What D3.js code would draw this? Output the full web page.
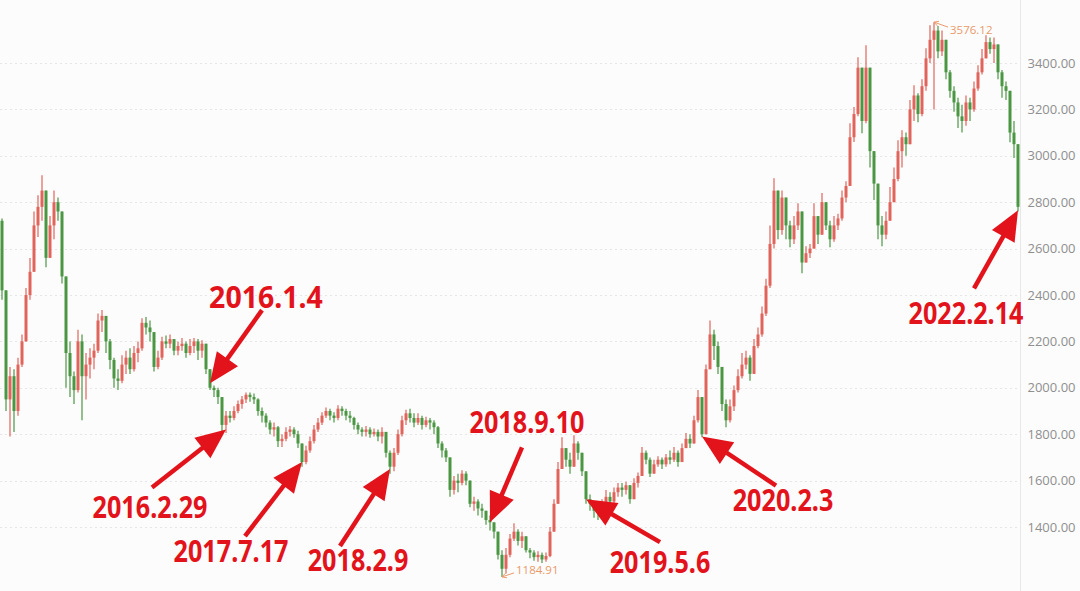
<!DOCTYPE html>
<html>
<head>
<meta charset="utf-8">
<script src="https://cdn.jsdelivr.net/npm/d3@7"></script>
<style>
html,body{margin:0;padding:0;background:#fcfcfc;}
svg{display:block;}
</style>
</head>
<body>
<svg id="chart" width="1080" height="591"></svg>
<script>
// ---------- DATA ----------
const firstOpen = 2720;
const closes = [
2420,1950,2050,1900,2100,2200,2400,2500,2700,2780,
2850,2560,2700,2800,2760,2480,2150,2050,1990,2200,
2050,2100,2130,2160,2290,2310,2200,2120,2040,2030,
2100,2130,2080,2150,2170,2280,2260,2240,2090,2130,
2200,2190,2210,2160,2180,2190,2150,2180,2200,2160,
2190,2080,2000,1990,1960,1840,1880,1870,1900,1930,
1950,1970,1960,1950,1900,1880,1850,1820,1830,1770,
1780,1810,1820,1800,1760,1680,1730,1770,1820,1850,
1880,1900,1880,1870,1910,1900,1880,1870,1840,1820,
1810,1820,1800,1810,1790,1810,1720,1660,1720,1800,
1860,1890,1870,1850,1870,1840,1860,1850,1830,1760,
1730,1700,1560,1600,1590,1630,1600,1500,1510,1480,
1470,1430,1420,1380,1280,1220,1280,1350,1380,1340,
1360,1300,1290,1270,1280,1260,1275,1380,1500,1650,
1740,1690,1660,1760,1720,1640,1520,1500,1470,1460,
1500,1530,1510,1550,1570,1560,1580,1520,1590,1620,
1720,1690,1630,1670,1690,1670,1700,1690,1720,1680,
1740,1780,1760,1860,1960,1800,2080,2230,2180,2090,
1930,1860,1920,1990,2050,2100,2130,2060,2180,2230,
2320,2440,2620,2850,2680,2820,2700,2640,2700,2760,
2540,2580,2600,2740,2660,2800,2700,2640,2700,2730,
2820,2870,3080,3180,3380,3150,3380,3020,2880,2700,
2660,2720,2800,2900,3020,3080,3050,3200,3260,3180,
3300,3420,3500,3540,3450,3500,3360,3280,3230,3170,
3150,3230,3200,3290,3360,3420,3490,3460,3480,3360,
3300,3280,3100,3050,2780
];
const highs = [
2730,2420,2090,2080,2130,2230,2430,2560,2760,2830,
2916,2850,2740,2850,2820,2760,2480,2200,2070,2250,
2230,2150,2170,2190,2320,2335,2310,2210,2130,2080,
2140,2160,2170,2180,2200,2300,2305,2290,2240,2160,
2220,2225,2230,2210,2200,2215,2200,2210,2215,2210,
2205,2190,2080,2010,2000,1960,1900,1900,1920,1945,
1965,1980,1980,1975,1955,1915,1890,1860,1850,1835,
1800,1830,1835,1830,1815,1760,1750,1790,1840,1870,
1895,1915,1910,1895,1925,1920,1910,1900,1875,1850,
1830,1835,1830,1825,1820,1830,1810,1730,1740,1820,
1880,1905,1910,1890,1890,1880,1875,1870,1860,1835,
1770,1740,1700,1620,1630,1645,1640,1600,1530,1520,
1500,1470,1450,1420,1380,1300,1310,1370,1416,1390,
1380,1360,1310,1300,1295,1290,1290,1400,1520,1680,
1787,1740,1720,1795,1770,1720,1640,1540,1510,1490,
1520,1560,1550,1570,1590,1590,1595,1580,1610,1635,
1745,1730,1700,1690,1705,1700,1715,1730,1745,1730,
1760,1805,1800,1880,1990,1960,2100,2290,2250,2200,
2090,1950,1950,2010,2080,2150,2160,2140,2210,2260,
2350,2470,2700,2903,2850,2850,2820,2720,2740,2795,
2760,2610,2620,2795,2740,2840,2800,2720,2740,2750,
2850,2890,3140,3210,3425,3380,3477,3380,3020,2880,
2740,2760,2865,2950,3067,3110,3100,3240,3304,3270,
3330,3464,3563,3576.12,3560,3540,3500,3370,3300,3250,
3220,3260,3250,3320,3390,3460,3520,3510,3510,3480,
3370,3320,3280,3150,3050
];
const lows = [
2380,1900,1790,1810,1880,2090,2200,2380,2500,2650,
2720,2520,2560,2640,2720,2450,2000,1960,1930,1980,
1860,1950,2040,2080,2150,2240,2150,2080,2000,1990,
2020,2060,2060,2070,2110,2160,2230,2200,2070,2080,
2120,2170,2170,2140,2140,2160,2130,2140,2150,2120,
2130,2060,1990,1960,1930,1810,1805,1850,1860,1890,
1910,1935,1940,1930,1880,1850,1830,1800,1790,1745,
1745,1770,1790,1785,1740,1660,1670,1720,1760,1810,
1840,1870,1860,1850,1860,1880,1860,1850,1820,1800,
1790,1790,1785,1790,1770,1760,1700,1630,1640,1710,
1790,1840,1850,1830,1840,1820,1830,1820,1800,1740,
1700,1680,1530,1540,1550,1580,1580,1485,1470,1450,
1440,1410,1385,1350,1260,1184.91,1200,1270,1340,1320,
1310,1290,1265,1255,1250,1245,1250,1270,1380,1500,
1650,1660,1630,1660,1690,1620,1500,1470,1440,1430,
1450,1490,1485,1500,1530,1530,1540,1500,1520,1570,
1620,1670,1615,1630,1660,1650,1660,1670,1680,1660,
1680,1740,1740,1760,1850,1787,1800,2080,2120,2060,
1900,1830,1850,1900,1980,2040,2080,2030,2060,2170,
2220,2310,2430,2600,2640,2660,2640,2606,2620,2680,
2494,2540,2560,2600,2620,2660,2680,2606,2630,2680,
2720,2800,2870,3060,3170,3097,3140,2950,2810,2640,
2610,2640,2740,2800,2890,2950,3000,3060,3150,3145,
3170,3280,3400,3200,3420,3430,3330,3250,3190,3120,
3100,3130,3150,3190,3280,3350,3420,3440,3400,3330,
3250,3240,3058,2990,2760
];
const yTicks = [1400,1600,1800,2000,2200,2400,2600,2800,3000,3200,3400];

const annoLabels = ["2016.1.4","2016.2.29","2017.7.17","2018.2.9","2018.9.10","2019.5.6","2020.2.3","2022.2.14"];
const annoIndex  = [52,56,75,97,122,146,175,254];
const annoValue  = [2020,1820,1680,1650,1420,1520,1790,2765];

// ---------- LAYOUT (pixel offsets for annotation arrows/labels) ----------
const annoTail  = [[52,-73],[-74,58],[-57,74],[-50,77],[32,-75],[74,43],[74,49],[-44,78]];
const annoText  = [[56,-86],[-76,77],[-71,88],[-32,90],[37,-101],[74,62],[81,63],[-52,102]];
const annoScale = [0.95,0.84,0.84,0.84,0.84,0.84,0.84,0.84];

const W = 1080, H = 591;
const plotRight = 1020;
const svg = d3.select("#chart");
svg.append("rect").attr("width",W).attr("height",H).attr("fill","#fcfcfc");

const idx = closes.map((_, i) => i);
const x = d3.scaleBand().domain(idx).range([0, plotRight]).padding(0);
const y = d3.scaleLinear().domain([1400, 3400]).range([527, 63]);

// grid
svg.append("g").selectAll("line").data(yTicks).join("line")
  .attr("x1", 0).attr("x2", plotRight)
  .attr("y1", d => Math.round(y(d)) + 0.5).attr("y2", d => Math.round(y(d)) + 0.5)
  .attr("stroke", "#e6e6e6").attr("stroke-dasharray", "2,3").attr("stroke-width", 1);

// axis
const axis = d3.axisRight(y).tickValues(yTicks).tickFormat(d3.format(".2f")).tickSize(0).tickPadding(7);
const ag = svg.append("g").attr("transform", `translate(${plotRight + 0.5},0)`).call(axis);
ag.select(".domain").attr("stroke", "#e8e8e8").attr("d", `M0,0V${H}`);
ag.selectAll("text").attr("fill", "#8f8f8f").style("font-family", "'Open Sans','Noto Sans',sans-serif").style("font-size", "13px");

// candles
const UP = "#e0645b", DOWN = "#4b9643";
const candles = idx.map(i => {
  const o = i === 0 ? firstOpen : closes[i - 1];
  const c = closes[i];
  return { i, o, c, h: Math.max(highs[i], o, c), l: Math.min(lows[i], o, c) };
});
const bw = x.bandwidth();
const bodyW = 3;
const cg = svg.append("g");
cg.selectAll("line").data(candles).join("line")
  .attr("x1", d => x(d.i) + bw / 2).attr("x2", d => x(d.i) + bw / 2)
  .attr("y1", d => y(d.h)).attr("y2", d => y(d.l))
  .attr("stroke", d => d.c >= d.o ? UP : DOWN).attr("stroke-width", 1.2);
cg.selectAll("rect").data(candles).join("rect")
  .attr("x", d => x(d.i) + (bw - bodyW) / 2).attr("width", bodyW)
  .attr("y", d => y(Math.max(d.o, d.c)))
  .attr("height", d => Math.max(1, Math.abs(y(d.o) - y(d.c))))
  .attr("fill", d => d.c >= d.o ? UP : DOWN);

// high / low markers
const hiI = d3.maxIndex(highs), loI = d3.minIndex(lows);
const mk = svg.append("g").attr("fill", "#e99a6a").attr("stroke", "#e99a6a");
function marker(i, v, dx, dy, txt, tdx, tdy) {
  const px = x(i) + bw / 2, py = y(v);
  mk.append("line").attr("x1", px).attr("y1", py).attr("x2", px + dx).attr("y2", py + dy).attr("stroke-width", 1);
  const ang = Math.atan2(dy, dx);
  const a1 = ang + 0.5, a2 = ang - 0.5;
  mk.append("path").attr("d", `M${px},${py}L${px + 5 * Math.cos(a1)},${py + 5 * Math.sin(a1)}M${px},${py}L${px + 5 * Math.cos(a2)},${py + 5 * Math.sin(a2)}`).attr("fill", "none");
  mk.append("text").attr("x", px + tdx).attr("y", py + tdy).attr("stroke", "none")
    .style("font-family", "'Open Sans','Noto Sans',sans-serif").style("font-size", "11.5px").text(txt);
}
marker(hiI, highs[hiI], 14, 5, d3.format(".2f")(highs[hiI]), 16, 12);
marker(loI, lows[loI], 12, -4, d3.format(".2f")(lows[loI]), 14, -3);

// annotations
const RED = "#e3131b";
const ann = svg.append("g");
annoLabels.forEach((lab, k) => {
  const tx = x(annoIndex[k]) + bw / 2, ty = y(annoValue[k]);
  const sx = tx + annoTail[k][0], sy = ty + annoTail[k][1];
  const ang = Math.atan2(ty - sy, tx - sx);
  const headL = 30, headW = 13;
  const bx = tx - headL * Math.cos(ang), by = ty - headL * Math.sin(ang);
  ann.append("line").attr("x1", sx).attr("y1", sy).attr("x2", bx + 2 * Math.cos(ang)).attr("y2", by + 2 * Math.sin(ang))
    .attr("stroke", RED).attr("stroke-width", 4.5);
  const px = -Math.sin(ang), py = Math.cos(ang);
  ann.append("path")
    .attr("d", `M${tx},${ty}L${bx + headW * px},${by + headW * py}L${bx - headW * px},${by - headW * py}Z`)
    .attr("fill", RED);
  const lx = tx + annoText[k][0], ly = ty + annoText[k][1];
  ann.append("text")
    .attr("transform", `translate(${lx},${ly}) scale(${annoScale[k]},1)`)
    .attr("text-anchor", "middle").attr("dominant-baseline", "central")
    .attr("fill", RED)
    .style("font-family", "'Noto Sans','Open Sans',sans-serif").style("font-weight", "bold").style("font-size", "30px")
    .text(lab);
});
</script>
</body>
</html>
